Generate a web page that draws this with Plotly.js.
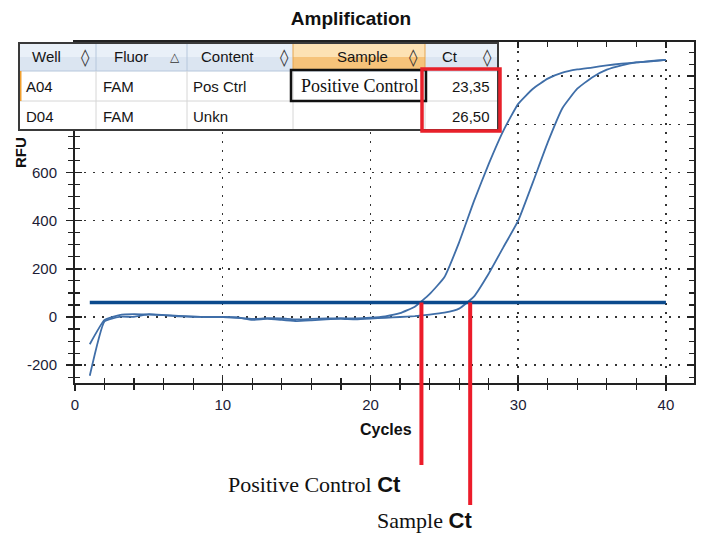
<!DOCTYPE html>
<html>
<head>
<meta charset="utf-8">
<script src="https://cdn.plot.ly/plotly-3.0.1.min.js"></script>
<style>html,body{margin:0;padding:0;background:#fff;}#chart{width:702px;height:535px;}</style>
</head>
<body>
<div id="chart"></div>
<script>
// ---------- data ----------
const cycles = [1,2,3,4,5,6,7,8,9,10,11,12,13,14,15,16,17,18,19,20,21,22,23,24,25,26,27,28,29,30,31,32,33,34,35,36,37,38,39,40];
const posCtrlRFU = [-113,-12,8,12,10,8,5,2,0,0,-3,-8,-5,-6,-10,-8,-6,-5,-6,-3,3,16,43,95,165,310,480,635,774,885,948,990,1015,1028,1036,1045,1052,1057,1062,1068];
const sampleRFU = [-244,-18,1,1,12,8,3,1,0,0,-2,-12,-8,-12,-17,-14,-10,-8,-10,-7,-3,0,4,10,18,35,85,180,290,400,560,725,868,948,995,1027,1045,1057,1063,1068];
const thresholdRFU = 60;
const crossingCycles = [23.45, 26.75];          // where each curve meets the threshold
const crossingLabels = ['Positive Control', 'Sample'];
const xTicks = [0, 10, 20, 30, 40];
const yTicks = [-200, 0, 200, 400, 600, 800, 1000];
const yTickText = ['-200', '0', '200', '400', '600', '', ''];   // 800 and 1000 sit under the table

const tableHeaders = ['Well', 'Fluor', 'Content', 'Sample', 'Ct'];
const headerIcons = ['\u25CA', '\u25B3', '\u25CA', '\u25CA', '\u25CA'];
const wells = ['A04', 'D04'];
const fluors = ['FAM', 'FAM'];
const contents = ['Pos Ctrl', 'Unkn'];
const samples = ['Positive Control', ''];
const ctValues = ['23,35', '26,50'];

// ---------- layout geometry ----------
const W = 702, H = 535;
const M = {l: 75, r: 8, t: 42, b: 152};
const PW = W - M.l - M.r, PH = H - M.t - M.b;
const xRange = [0, 41.9], yRange = [-274, 1142];
const px = x => (x - M.l) / PW;
const py = y => (M.t + PH - y) / PH;
const yToPaper = v => (v - yRange[0]) / (yRange[1] - yRange[0]);

const colEdges = [19, 96, 187, 293, 425, 498];
const rowEdges = [43, 71, 101, 130];
const headerTextX = [30, 112, 199, 335, 440];
const headerIconX = [85, 175, 284, 413, 488];
const bodyTextX = [24, 101, 191, 299];
const ctRightX = 492;
const redLineEnds = [465, 505];
const labelPos = [[226, 484], [375, 520]];

const sans = 'Liberation Sans, Arial, sans-serif';
const serif = 'Liberation Serif, Times New Roman, serif';

const shapes = [];
const annotations = [];
function box(x0, y0, x1, y1, fill, lineColor, lineWidth) {
  shapes.push({type: 'rect', xref: 'paper', yref: 'paper', layer: 'above',
    x0: px(x0), x1: px(x1), y0: py(y1), y1: py(y0),
    fillcolor: fill || 'rgba(0,0,0,0)',
    line: {color: lineColor || 'rgba(0,0,0,0)', width: lineWidth || 0}});
}
function seg(x0, y0, x1, y1, color, width) {
  shapes.push({type: 'line', xref: 'paper', yref: 'paper', layer: 'above',
    x0: px(x0), x1: px(x1), y0: py(y0), y1: py(y1), line: {color: color, width: width}});
}
function text(t, x, y, opts) {
  annotations.push(Object.assign({text: t, xref: 'paper', yref: 'paper', x: px(x), y: py(y),
    xanchor: 'left', yanchor: 'middle', showarrow: false,
    font: {family: sans, size: 15, color: '#151515'}}, opts || {}));
}

// red Ct markers from threshold crossing down below the axis
crossingCycles.forEach((c, i) => {
  shapes.push({type: 'line', xref: 'x', yref: 'paper', layer: 'above',
    x0: c, x1: c, y0: yToPaper(thresholdRFU), y1: py(redLineEnds[i]),
    line: {color: '#ec1c2a', width: 4}});
});

// table
const [c0, c1, c2, c3, c4, c5] = colEdges;
const [r0, r1, r2, r3] = rowEdges;
box(c0, r0, c5, r3, '#ffffff');
box(c0, r0, c3, (r0 + r1) / 2, '#e9f0f8');
box(c0, (r0 + r1) / 2, c3, r1, '#dbe5f1');
box(c4, r0, c5, (r0 + r1) / 2, '#e9f0f8');
box(c4, (r0 + r1) / 2, c5, r1, '#dbe5f1');
box(c3, r0, c4, (r0 + r1) / 2, '#fde2b4');
box(c3, (r0 + r1) / 2, c4, r1, '#f6c37a');
[c1, c2].forEach(x => seg(x, r0, x, r1, '#b6c7dc', 1));
[c3, c4].forEach(x => seg(x, r0, x, r1, '#e6a54e', 1));
seg(c0, r1, c5, r1, '#b6c7dc', 1);
[c1, c2, c3, c4].forEach(x => seg(x, r1, x, r3, '#d6d6d6', 1));
seg(c0, r2, c5, r2, '#d6d6d6', 1);
seg(c0 + 1.5, r1, c0 + 1.5, r2, '#f0a030', 2);
box(291, 70, 426, 101, null, '#111111', 2.5);
box(c0, r0, c5, r3, null, '#3a3a3a', 2);
box(422, 69, 500, 131, null, '#e8202a', 3.5);

tableHeaders.forEach((h, i) => {
  text(h, headerTextX[i], 57);
  text(headerIcons[i], headerIconX[i], 57, {xanchor: 'center',
    font: {family: 'DejaVu Sans, sans-serif', size: i === 1 ? 12 : 17, color: '#333'}});
});
[0, 1].forEach(r => {
  const yc = r === 0 ? 86 : 116;
  text(wells[r], bodyTextX[0], yc);
  text(fluors[r], bodyTextX[1], yc);
  text(contents[r], bodyTextX[2], yc);
  if (samples[r]) text(samples[r], bodyTextX[3], yc, {font: {family: serif, size: 18, color: '#111'}});
  text(ctValues[r], ctRightX, yc, {xanchor: 'right'});
});

// axis titles
text('<b>RFU</b>', 20, 153, {xanchor: 'center', textangle: -90, font: {family: sans, size: 15, color: '#111'}});
text('<b>Cycles</b>', 386, 430, {xanchor: 'center', font: {family: sans, size: 16, color: '#111'}});

// bottom labels
crossingLabels.forEach((lab, i) => {
  text(lab + ' <span style="font-family:Liberation Sans"><b>Ct</b></span>', labelPos[i][0], labelPos[i][1],
    {font: {family: serif, size: 22, color: '#111'}});
});

const lineColor = '#3f6ea8';
const traces = [
  {x: cycles, y: posCtrlRFU, type: 'scatter', mode: 'lines', name: 'A04',
   line: {color: lineColor, width: 1.8, shape: 'spline', smoothing: 0.4}, hoverinfo: 'skip'},
  {x: cycles, y: sampleRFU, type: 'scatter', mode: 'lines', name: 'D04',
   line: {color: lineColor, width: 1.8, shape: 'spline', smoothing: 0.4}, hoverinfo: 'skip'},
  {x: [cycles[0], cycles[cycles.length - 1]], y: [thresholdRFU, thresholdRFU], type: 'scatter', mode: 'lines',
   name: 'Threshold', line: {color: '#0b4a8c', width: 3.5}, hoverinfo: 'skip'},
  {x: [], y: [], xaxis: 'x2', yaxis: 'y2', type: 'scatter', mode: 'lines', hoverinfo: 'skip', showlegend: false}
];

const axisCommon = {zeroline: false, tickcolor: '#222', tickwidth: 1.5, linecolor: '#222', linewidth: 2,
  tickfont: {family: sans, size: 15, color: '#1c1c36'}, fixedrange: true};

const layout = {
  width: W, height: H, margin: M, showlegend: false,
  paper_bgcolor: '#fff', plot_bgcolor: '#fff',
  title: {text: '<b>Amplification</b>', xref: 'container', yref: 'container',
    x: 351 / W, xanchor: 'center', y: 1 - 18 / H, yanchor: 'middle',
    font: {family: sans, size: 19, color: '#111'}},
  xaxis: Object.assign({}, axisCommon, {range: xRange, tickmode: 'array', tickvals: xTicks,
    ticks: 'outside', ticklen: 6, ticklabelstandoff: 1,
    minor: {tick0: 0, dtick: 2, ticks: 'outside', ticklen: 5, tickwidth: 1.2, tickcolor: '#222', showgrid: false},
    showline: true, mirror: true, showgrid: true, gridcolor: '#333', gridwidth: 1.5, griddash: '2px,7px'}),
  yaxis: Object.assign({}, axisCommon, {range: yRange, tickmode: 'array', tickvals: yTicks, ticktext: yTickText,
    ticks: 'outside', ticklen: 7, ticklabelstandoff: 6,
    minor: {tick0: 0, dtick: 50, ticks: 'outside', ticklen: 5, tickwidth: 1.2, tickcolor: '#222', showgrid: false},
    showline: true, mirror: true, showgrid: true, gridcolor: '#333', gridwidth: 1.5, griddash: '2px,7px'}),
  xaxis2: Object.assign({}, axisCommon, {overlaying: 'x', anchor: 'y2', range: xRange, tickmode: 'array', tickvals: xTicks,
    ticks: 'inside', ticklen: 6, showticklabels: false,
    minor: {tick0: 0, dtick: 2, ticks: 'inside', ticklen: 5, tickwidth: 1.2, tickcolor: '#222', showgrid: false},
    showline: true, mirror: 'ticks', showgrid: false}),
  yaxis2: Object.assign({}, axisCommon, {overlaying: 'y', anchor: 'x2', side: 'left', range: yRange, tickmode: 'array', tickvals: yTicks,
    ticks: 'inside', ticklen: 7, showticklabels: false,
    minor: {tick0: 0, dtick: 50, ticks: 'inside', ticklen: 5, tickwidth: 1.2, tickcolor: '#222', showgrid: false},
    showline: true, mirror: 'ticks', showgrid: false}),
  shapes: shapes,
  annotations: annotations
};

Plotly.newPlot('chart', traces, layout, {staticPlot: true, displayModeBar: false});
</script>
</body>
</html>
